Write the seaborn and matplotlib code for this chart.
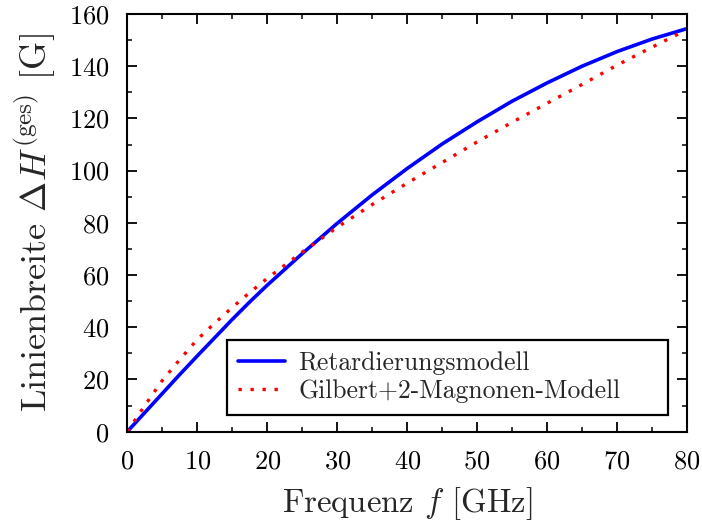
import numpy as np
import pandas as pd
import matplotlib
matplotlib.use("Agg")
import matplotlib.pyplot as plt
from matplotlib.ticker import MultipleLocator
import seaborn as sns

# Frequency grid [GHz] and linewidths [G] for both models
freq = [0, 2.5, 5, 7.5, 10, 12.5, 15, 17.5, 20, 25, 30, 35, 40, 45, 50, 55, 60, 65, 70, 75, 80]
retard = [0, 7.3, 14.6, 21.9, 29, 36, 43, 49.7, 56.1, 68.2, 79.8, 90.7, 100.8, 110.2,
          118.7, 126.6, 133.6, 140, 145.6, 150.4, 154.4]
gilbert = [0, 10, 19.6, 27.6, 35.3, 41.6, 47.6, 53.3, 58.7, 68.8, 78.3, 87, 95.2, 103.1,
           111, 118.5, 125.8, 133, 140.4, 147.3, 154]

label_retard = "Retardierungsmodell"
label_gilbert = "Gilbert+2-Magnonen-Modell"

sns.set_style("ticks")
plt.rcParams.update({
    "font.family": "serif",
    "font.serif": ["cmr10"],
    "mathtext.fontset": "cm",
    "axes.formatter.use_mathtext": True,
    "axes.linewidth": 1.5,
    "axes.edgecolor": "black",
    "xtick.direction": "in",
    "ytick.direction": "in",
    "xtick.top": True,
    "ytick.right": True,
    "xtick.major.size": 7,
    "ytick.major.size": 7,
    "xtick.minor.size": 3.5,
    "ytick.minor.size": 3.5,
    "xtick.major.width": 1.3,
    "ytick.major.width": 1.3,
    "xtick.minor.width": 1.1,
    "ytick.minor.width": 1.1,
    "xtick.color": "black",
    "ytick.color": "black",
})

df = pd.DataFrame({"f": freq, "retard": retard, "gilbert": gilbert})

fig = plt.figure(figsize=(7.02, 5.24), dpi=100)
ax = fig.add_axes([0.1813, 0.1762, 0.7974, 0.7971])

sns.lineplot(data=df, x="f", y="retard", ax=ax, color="#0000ff", linewidth=2.6,
             label=label_retard)
sns.lineplot(data=df, x="f", y="gilbert", ax=ax, color="#ff0000", linewidth=2.4,
             linestyle=(0, (1, 2.6)), label=label_gilbert)

ax.set_xlim(0, 80)
ax.set_ylim(0, 160)
ax.xaxis.set_major_locator(MultipleLocator(10))
ax.xaxis.set_minor_locator(MultipleLocator(5))
ax.yaxis.set_major_locator(MultipleLocator(20))
ax.yaxis.set_minor_locator(MultipleLocator(10))
ax.tick_params(which="both", top=True, right=True, labelsize=19, pad=13)

ax.set_xlabel(r"Frequenz $f$ [GHz]", fontsize=23.6, labelpad=8)
ax.set_ylabel(r"Linienbreite $\Delta H^{(\mathrm{ges})}$ [G]", fontsize=26, labelpad=8)

leg = ax.legend(loc="lower left", bbox_to_anchor=(0.1775, 0.04, 0.7885, 0.19),
                mode="expand", fontsize=18.5,
                frameon=True, fancybox=False, edgecolor="black", framealpha=1,
                handlelength=1.83, handletextpad=0.52, borderpad=0.45,
                labelspacing=0.18, borderaxespad=0)
leg.get_frame().set_linewidth(1.6)

fig.savefig("out.png", dpi=100)
